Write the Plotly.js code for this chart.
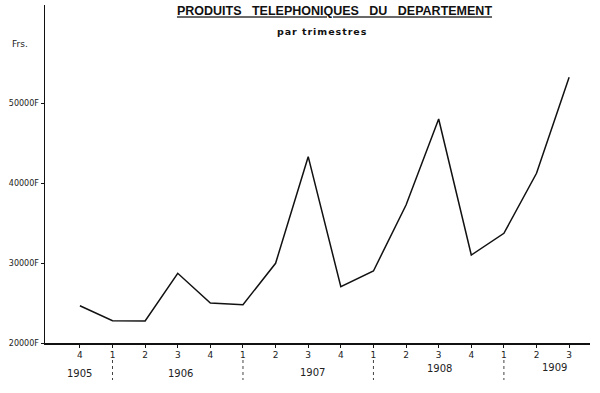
<!DOCTYPE html>
<html><head><meta charset="utf-8">
<script src="https://cdn.plot.ly/plotly-3.0.1.min.js"></script>
<style>body{margin:0;background:#fff}#c{width:600px;height:393px}</style>
</head><body><div id="c"></div>
<script>
const quarterLabels = ['4','1','2','3','4','1','2','3','4','1','2','3','4','1','2','3'];
const years = ['1905','1906','1907','1908','1909'];
const revenue = [24660, 22790, 22750, 28710, 25000, 24790, 29960, 43290, 27040, 29000, 37250, 48000, 31000, 33710, 41210, 53210];
const yTicks = [20000, 30000, 40000, 50000];
const yTickText = ['20000F', '30000F', '40000F', '50000F'];

const idx = revenue.map((_, i) => i);
const font = 'DejaVu Sans, sans-serif';
const NB = '\u00a0';
const HS = '\u200a';

// plot area geometry (pixels) used for paper-coordinate placement of text
const L = 45, T = 5, W = 545, H = 338;
const px = x => (x - L) / W;
const py = y => 1 - (y - T) / H;

// year separators sit on the first-quarter ticks
const firstQuarterIdx = quarterLabels.map((q, i) => q === '1' ? i : -1).filter(i => i >= 0);
const shapes = firstQuarterIdx.map(b => ({
  type: 'line', xref: 'x', yref: 'paper', x0: b, x1: b, y0: py(360), y1: py(380),
  line: {color: '#444', width: 1, dash: 'dot'}
}));

const yearPos = [[0.0, 373], [3.07, 374], [7.12, 372], [11.04, 368], [14.54, 367]];
const annotations = years.map((yr, i) => ({
  text: yr, x: yearPos[i][0], xref: 'x', y: py(yearPos[i][1]), yref: 'paper',
  xanchor: 'center', yanchor: 'middle',
  showarrow: false, font: {family: font, size: 10, color: '#222'}
}));
annotations.push({text: 'Frs.', xref: 'paper', yref: 'paper', x: px(20), y: py(44),
  xanchor: 'center', yanchor: 'middle', showarrow: false,
  font: {family: font, size: 9, color: '#222'}});
annotations.push({text: '<b>' + 'par trimestres'.split('').join(HS) + '</b>', xref: 'paper', yref: 'paper',
  x: px(322), y: py(32), xanchor: 'center', yanchor: 'middle', showarrow: false,
  font: {family: font, size: 9.5, color: '#111'}});

const titleText = ['PRODUITS', 'TELEPHONIQUES', 'DU', 'DEPARTEMENT'].join(NB + NB + NB);

const layout = {
  width: 600, height: 393,
  margin: {l: L, r: 600 - L - W, t: T, b: 393 - T - H},
  paper_bgcolor: '#fff', plot_bgcolor: '#fff',
  showlegend: false,
  title: {text: '<b><u>' + titleText + '</u></b>', x: 334.5/600, xanchor: 'center', y: 1 - 11/393, yanchor: 'middle',
    font: {family: 'Liberation Sans, Arial, sans-serif', size: 12.5, color: '#111'}},
  xaxis: {
    range: [-1.07, 15.64], tickvals: idx, ticktext: quarterLabels,
    showgrid: false, zeroline: false, showline: true, linecolor: '#111', linewidth: 1.5,
    ticks: 'outside', ticklen: 3, tickcolor: '#111', tickwidth: 1,
    tickfont: {family: font, size: 9, color: '#222'}, fixedrange: true
  },
  yaxis: {
    range: [20000, 62250], tickvals: yTicks, ticktext: yTickText,
    showgrid: false, zeroline: false, showline: true, linecolor: '#111', linewidth: 1.5,
    ticks: 'outside', ticklen: 3, tickcolor: '#111', tickwidth: 1,
    tickfont: {family: font, size: 8, color: '#222'}, fixedrange: true
  },
  shapes: shapes,
  annotations: annotations
};

Plotly.newPlot('c', [{
  x: idx, y: revenue, type: 'scatter', mode: 'lines',
  line: {color: '#111', width: 1.5}, hoverinfo: 'skip'
}], layout, {staticPlot: true, displayModeBar: false});
</script></body></html>
